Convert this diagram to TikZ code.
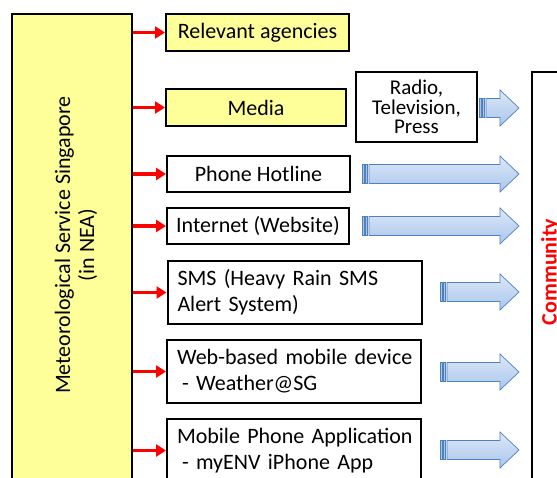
\documentclass[tikz,border=0pt]{standalone}
\usepackage{fontspec}
\setmainfont{Carlito}
\usetikzlibrary{arrows.meta}
\definecolor{boxyellow}{HTML}{FFFF99}
\definecolor{arrblue}{HTML}{4F81BD}
\definecolor{arrlight}{HTML}{DDE8F8}
\definecolor{arrdark}{HTML}{A9C5EC}
\definecolor{commred}{HTML}{FF0000}
\tikzset{
  box/.style={draw=black, line width=2pt, inner sep=0pt, align=center,
    font=\fontsize{22}{26}\selectfont},
  ybox/.style={box, fill=boxyellow},
  lbox/.style={box, align=left, inner xsep=10pt, text width=234pt, minimum height=63pt},
  redarr/.style={draw=commred, line width=3.5pt, -{Triangle[length=10pt,width=12pt]}},
  blk/.style={draw=arrblue, line width=0.7pt, top color=arrlight, bottom color=arrdark},
  stripe/.style={draw=arrblue, line width=0.5pt, fill=arrdark}
}
\newcommand{\blkarrow}[3]{%
  \path[stripe] (#1,#3-9.5) rectangle (#1+2.5,#3+9.5);
  \path[stripe] (#1+3.5,#3-9.5) rectangle (#1+5.5,#3+9.5);
  \path[blk] (#1+7,#3-9.5) -- (#2-19,#3-9.5) -- (#2-19,#3-18) -- (#2,#3)
    -- (#2-19,#3+18) -- (#2-19,#3+9.5) -- (#1+7,#3+9.5) -- cycle;}
\begin{document}
\begin{tikzpicture}[x=1pt,y=-1pt]
\path[use as bounding box, fill=white] (0,0) rectangle (557,478);
\clip (0,0) rectangle (557,478);
% source box
\node[ybox, minimum width=120pt, minimum height=506pt] (met) at (72,267) {};
\node[font=\fontsize{22}{24}\selectfont, align=center, rotate=90] (metlabel) at (76,245)
  {Meteorological Service Singapore\\(in NEA)};
% channel boxes
\node[ybox, minimum width=183pt, minimum height=37pt] (rel) at (257.5,32.5) {Relevant agencies};
\node[ybox, minimum width=180pt, minimum height=37pt] (media) at (256,107.5) {Media};
\node[box, minimum width=183pt, minimum height=36pt] (phone) at (258.5,174) {Phone Hotline};
\node[box, minimum width=182pt, minimum height=36pt] (net) at (258,226) {Internet (Website)};
\node[lbox] (sms) at (294.5,292.5) {\mbox{SMS (Heavy Rain SMS}\\\mbox{Alert System)}};
\node[lbox] (web) at (294,371.5) {\mbox{Web-based mobile device}\\\mbox{\hspace*{5pt}- Weather@SG}};
\node[lbox] (mob) at (294,450.5) {\mbox{Mobile Phone Application}\\\mbox{\hspace*{5pt}- myENV iPhone App}};
\node[box, minimum width=121pt, minimum height=70pt, font=\fontsize{21}{19.5}\selectfont] (radio) at (416.5,107)
  {Radio,\\Television,\\Press};
% community box
\node[draw=black, line width=2pt, minimum width=70pt, minimum height=460pt, inner sep=0pt] (comm) at (567,302) {};
\node[rotate=90, anchor=base, text=commred, font=\fontsize{22}{26}\selectfont\bfseries] (commlabel) at (556.5,272) {Community};
% red arrows
\foreach \n in {rel,media,phone,net,sms,web,mob}
  \draw[redarr] (met.east |- \n.west) -- (\n.west);
% block arrows
\blkarrow{479}{519}{108}
\blkarrow{362}{519}{174}
\blkarrow{362}{519}{226}
\blkarrow{440}{519}{292}
\blkarrow{440}{519}{372}
\blkarrow{440}{519}{450}
\end{tikzpicture}
\end{document}
